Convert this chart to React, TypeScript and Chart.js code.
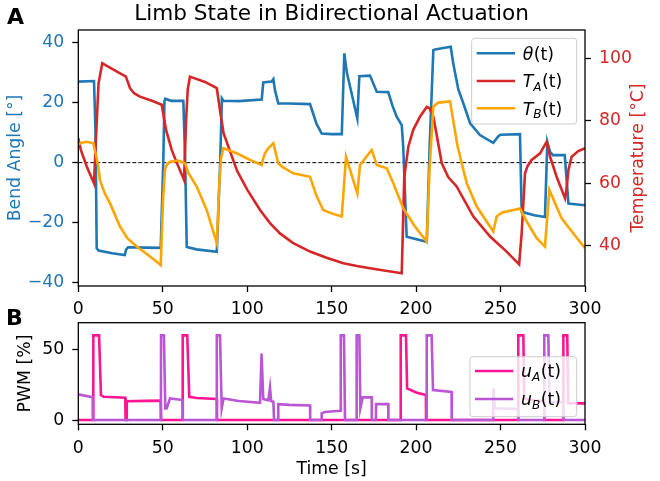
import React, { useEffect, useRef } from "react";
import { Chart, registerables } from "chart.js";
Chart.register(...registerables);

const FONT = "'DejaVu Sans', 'Liberation Sans', sans-serif";
const FS = 17.3;
const FS_TITLE = 21.6;
const C_THETA = "#1f77b4";
const C_TA = "#d62728";
const C_TB = "#ffa500";
const C_UA = "#ff1493";
const C_UB = "#ba55d3";

// ---- Data (time in s) ----
const thetaTime = [0, 9.3, 10.2, 10.9, 12, 20, 27.5, 28.3, 29.5, 40, 48.8, 50.3, 51, 51.5, 55, 62.2, 63.3, 64.2, 70, 82, 84, 85, 86, 95, 108.6, 109.5, 114.5, 115.5, 116.5, 118.4, 125, 137.2, 141, 144.1, 150, 156, 157.5, 159, 165.2, 166.4, 172.7, 176.7, 183.5, 186, 188.5, 191.5, 192.4, 194.4, 206.3, 208, 210.2, 211.2, 220.5, 222, 225, 228, 232, 237.8, 245.7, 248.7, 250, 261.5, 262.5, 270, 276.3, 277.7, 279.3, 281, 288, 290.2, 300];
const thetaDeg = [27, 27.2, 10, -28.5, -29.3, -30.2, -30.8, -29, -28.2, -28.3, -28.4, 0, 20.5, 21.3, 20.6, 20.6, 0, -28.1, -28.9, -29.7, 0, 21.4, 20.6, 20.5, 21, 26.7, 27, 27.8, 24, 19.7, 19.7, 19.5, 13, 9.7, 9.5, 9.5, 36.4, 30, 14.7, 28.8, 29, 23.6, 23.5, 19, 15.3, 12.5, 5, -24.7, -26.4, 5, 37.5, 37.7, 38.6, 33, 24.4, 19.7, 13.1, 9.2, 6.6, 8.8, 9.3, 9.5, -16.4, -17.5, -18.1, 6.9, 3.6, 2.5, 2.5, -13.6, -14.2];

const taTime = [0, 1.5, 5, 9.3, 10.5, 12, 14.2, 20, 28.2, 30.6, 33, 36.5, 44, 49.4, 52, 55.3, 58.2, 62.6, 63.8, 64.8, 66.1, 75, 82, 84, 86, 90, 94, 100, 107.6, 113.5, 119.4, 127, 137.2, 147, 156.9, 165, 172.7, 182, 191.5, 192.4, 193, 195.4, 198.3, 202.3, 206.3, 208, 210.2, 212, 215.2, 219, 224, 233.9, 243.8, 253.6, 261, 262.5, 264.5, 266, 268.4, 273.4, 277.3, 279.3, 283.2, 288.2, 289, 290.2, 292.1, 296, 300];
const taTemp = [74.4, 70.7, 65.4, 60, 75, 92, 98.4, 96.6, 94.1, 90.4, 88.8, 87.7, 86.3, 85.1, 77, 70.7, 66.7, 61.1, 80, 90, 94.1, 92.4, 90.4, 83, 76, 70, 64, 58, 51.5, 47.3, 44, 41, 38.2, 36.2, 34.5, 33.6, 32.9, 32.1, 31.3, 50, 62, 71.7, 77.1, 81.3, 84.4, 84, 81.3, 76, 66.4, 62, 59, 49.4, 43, 38.2, 34.1, 44, 63.2, 65.5, 67.5, 69.6, 73.3, 68.5, 62.1, 55.2, 58, 64.3, 68.5, 70.3, 71.2];

const tbTime = [0, 2, 5, 8.9, 10.5, 11.8, 12.8, 15.5, 18.8, 24.7, 29, 34.6, 42.5, 48.8, 50.2, 51.3, 52.5, 54.3, 59.2, 63.2, 65, 70.1, 76, 82, 83.5, 84.5, 85.9, 93.8, 101.7, 108.6, 109.5, 110.5, 112.5, 115.5, 118.4, 121, 127.3, 137.2, 141, 145, 150, 156, 158.5, 165.2, 166.8, 173.7, 176.7, 182.6, 186.5, 192.4, 199.3, 206.3, 208, 210.2, 213.1, 220.1, 222, 224.5, 227, 230, 235.9, 245.7, 247.7, 250.7, 261.5, 265.5, 271.4, 276.3, 278.9, 282.3, 286.2, 293.1, 300];
const tbTemp = [72.5, 73, 73.3, 72.8, 69, 65.4, 61.1, 57, 53.6, 46.2, 42.5, 39.8, 36.6, 33.9, 55, 64.3, 66, 66.9, 67.3, 66.4, 63.5, 59, 51.5, 40.9, 60, 68, 71.2, 69.6, 67.5, 65.9, 68, 69.6, 71.2, 72.8, 66.4, 65.2, 63.2, 62.1, 56, 51.5, 50.4, 49.4, 68.5, 56.8, 65.9, 70.7, 65.9, 64.8, 60, 52, 46.2, 41.4, 65, 84.5, 85.8, 86.2, 80, 72, 66.4, 60, 52.6, 44.6, 49.4, 50.6, 52, 47.8, 42.5, 39.8, 57.9, 53.6, 48.8, 44, 39.3];

const uaTime = [0, 8.8, 8.9, 12.3, 13.4, 15, 27.8, 28, 28.5, 28.7, 40, 48.8, 49, 61.7, 61.8, 64.5, 65.7, 70, 82, 82.1, 190.8, 190.9, 194, 194.7, 200, 205.8, 205.9, 260.4, 260.5, 263.5, 264, 270, 275.8, 275.9, 287.1, 287.2, 289.5, 290, 300];
const uaPct = [0, 0, 60, 60, 17.7, 16.5, 15.9, 0, 0, 13.4, 13.6, 13.8, 0, 0, 60, 60, 16.5, 15.6, 14.9, 0, 0, 60, 60, 22.4, 19.5, 17.7, 0, 0, 60, 60, 15, 14, 13.5, 0, 0, 60, 60, 12, 11.8];

const ubTime = [0, 8.5, 8.6, 48.9, 49, 50.7, 51.5, 52.3, 54.3, 61.8, 61.9, 81.9, 82, 83.9, 84.9, 86, 95, 107.6, 108.5, 109.5, 112.5, 113.5, 114.2, 115.5, 115.9, 118.3, 118.4, 125, 137.2, 137.3, 144, 144.1, 146, 155, 155.4, 157.3, 157.9, 164.7, 164.8, 166.4, 167, 168.4, 173.7, 173.8, 176.2, 176.3, 183.5, 183.6, 206.2, 206.3, 209.2, 210, 221, 221.1, 245.6, 245.7, 246.7, 260.4, 260.5, 275.8, 275.9, 278.3, 279, 287, 287.1, 300];
const ubPct = [18.2, 16.1, 0, 0, 60, 60, 8.3, 8.3, 15.3, 14.2, 0, 0, 60, 60, 8.3, 15.3, 13.5, 12.2, 47.2, 15, 14, 23.1, 13.5, 13, 0, 0, 11.3, 10.8, 10.3, 0, 0, 4.7, 5.7, 6.6, 60, 60, 0, 0, 60, 60, 8.3, 16.1, 16.1, 0, 0, 11.3, 11.3, 0, 0, 60, 60, 21.2, 20, 0, 0, 22.4, 8.3, 7.8, 0, 0, 60, 60, 13, 12.5, 0, 0];

// ---- Ticks / labels ----
const timeTicks = [0, 50, 100, 150, 200, 250, 300];
const angleTicks = [-40, -20, 0, 20, 40];
const tempTicks = [40, 60, 80, 100];
const pwmTicks = [0, 50];

const pts = (ts: number[], vs: number[]) => ts.map((t, i) => ({ x: t, y: vs[i] }));
const fmt = (v: number) => (v < 0 ? "\u2212" + Math.abs(v) : String(v));

function mkScale(position: string, min: number, max: number, ticks: number[], color: string, fit: (s: any) => void, padding: number) {
  return {
    type: "linear",
    position,
    min,
    max,
    afterBuildTicks: (s: any) => {
      s.ticks = ticks.map((v) => ({ value: v }));
    },
    afterFit: fit,
    grid: { display: true, drawOnChartArea: false, drawTicks: true, tickLength: 6, tickWidth: 1.3, tickColor: "#000" },
    border: { display: false },
    ticks: {
      font: { family: FONT, size: FS },
      color,
      padding,
      autoSkip: false,
      maxRotation: 0,
      callback: (v: any) => fmt(Number(v)),
    },
  };
}

function line(label: string, data: any[], color: string, order: number, yAxisID: string) {
  return {
    label,
    data,
    borderColor: color,
    backgroundColor: color,
    borderWidth: 2.6,
    pointRadius: 0,
    tension: 0,
    fill: false,
    order,
    yAxisID,
  };
}

function mathLabel(ctx: CanvasRenderingContext2D, x: number, y: number, main: string, sub?: string) {
  ctx.textAlign = "left";
  ctx.textBaseline = "alphabetic";
  ctx.fillStyle = "#000";
  ctx.font = `italic ${FS}px ${FONT}`;
  ctx.fillText(main, x, y);
  let w = ctx.measureText(main).width;
  if (sub) {
    ctx.font = `italic ${FS * 0.7}px ${FONT}`;
    ctx.fillText(sub, x + w, y + FS * 0.22);
    w += ctx.measureText(sub).width;
  }
  ctx.font = `${FS}px ${FONT}`;
  ctx.fillText("(t)", x + w + 0.5, y);
}

function drawLegend(ctx: CanvasRenderingContext2D, bx: number, by: number, bw: number, bh: number, rows: { y: number; color: string; main: string; sub?: string }[]) {
  ctx.save();
  ctx.beginPath();
  (ctx as any).roundRect(bx, by, bw, bh, 3);
  ctx.fillStyle = "rgba(255,255,255,0.8)";
  ctx.fill();
  ctx.strokeStyle = "#cccccc";
  ctx.lineWidth = 1;
  ctx.stroke();
  for (const r of rows) {
    ctx.beginPath();
    ctx.moveTo(bx + 5, r.y);
    ctx.lineTo(bx + 43.3, r.y);
    ctx.strokeStyle = r.color;
    ctx.lineWidth = 2.6;
    ctx.stroke();
    mathLabel(ctx, bx + 51, r.y + 6.3, r.main, r.sub);
  }
  ctx.restore();
}

function frame(ctx: CanvasRenderingContext2D, a: any) {
  ctx.save();
  ctx.strokeStyle = "#000";
  ctx.lineWidth = 1.3;
  ctx.strokeRect(a.left, a.top, a.right - a.left, a.bottom - a.top);
  ctx.restore();
}

function rotText(ctx: CanvasRenderingContext2D, text: string, x: number, y: number, color: string) {
  ctx.save();
  ctx.translate(x, y);
  ctx.rotate(-Math.PI / 2);
  ctx.textAlign = "center";
  ctx.textBaseline = "alphabetic";
  ctx.fillStyle = color;
  ctx.font = `${FS}px ${FONT}`;
  ctx.fillText(text, 0, 0);
  ctx.restore();
}

const deco1 = {
  id: "deco1",
  afterDatasetsDraw(chart: any) {
    const ctx = chart.ctx;
    frame(ctx, chart.chartArea);
    drawLegend(ctx, 471.7, 38.3, 105, 85.7, [
      { y: 53.3, color: C_THETA, main: "\u03b8" },
      { y: 81, color: C_TA, main: "T", sub: "A" },
      { y: 108.3, color: C_TB, main: "T", sub: "B" },
    ]);
  },
  afterDraw(chart: any) {
    const ctx = chart.ctx as CanvasRenderingContext2D;
    ctx.save();
    ctx.fillStyle = "#000";
    ctx.textAlign = "left";
    ctx.textBaseline = "alphabetic";
    ctx.font = `bold 22px ${FONT}`;
    ctx.fillText("A", 7, 24);
    ctx.font = `${FS_TITLE}px ${FONT}`;
    ctx.textAlign = "center";
    ctx.fillText("Limb State in Bidirectional Actuation", 331.6, 19.5);
    ctx.restore();
    rotText(ctx, "Bend Angle [\u00b0]", 19.5, 158, C_THETA);
    rotText(ctx, "Temperature [\u00b0C]", 643, 158, C_TA);
  },
};

const deco2 = {
  id: "deco2",
  afterDatasetsDraw(chart: any) {
    const ctx = chart.ctx;
    frame(ctx, chart.chartArea);
    drawLegend(ctx, 470, 56.7, 106.7, 60, [
      { y: 71, color: C_UA, main: "u", sub: "A" },
      { y: 99, color: C_UB, main: "u", sub: "B" },
    ]);
  },
  afterDraw(chart: any) {
    const ctx = chart.ctx as CanvasRenderingContext2D;
    ctx.save();
    ctx.fillStyle = "#000";
    ctx.textAlign = "left";
    ctx.textBaseline = "alphabetic";
    ctx.font = `bold 22px ${FONT}`;
    ctx.fillText("B", 6, 25);
    ctx.font = `${FS}px ${FONT}`;
    ctx.textAlign = "center";
    ctx.fillText("Time [s]", 331.6, 173.5);
    ctx.restore();
    rotText(ctx, "PWM [%]", 30, 73.5, "#000");
  },
};

const baseOpts = {
  animation: false,
  responsive: false,
  devicePixelRatio: 1,
  events: [],
  plugins: { legend: { display: false }, tooltip: { enabled: false }, title: { display: false } },
};

export default function App() {
  const c1 = useRef<HTMLCanvasElement>(null);
  const c2 = useRef<HTMLCanvasElement>(null);

  useEffect(() => {
    const ch1 = new Chart(c1.current as HTMLCanvasElement, {
      type: "line",
      data: {
        datasets: [
          {
            label: "zero",
            data: [{ x: 0, y: 0 }, { x: 300, y: 0 }],
            borderColor: "#000",
            borderWidth: 1,
            borderDash: [4, 2],
            pointRadius: 0,
            order: 4,
            yAxisID: "y",
          },
          line("\u03b8(t)", pts(thetaTime, thetaDeg), C_THETA, 3, "y"),
          line("T_A(t)", pts(taTime, taTemp), C_TA, 2, "y1"),
          line("T_B(t)", pts(tbTime, tbTemp), C_TB, 1, "y1"),
        ],
      } as any,
      options: {
        ...baseOpts,
        layout: { padding: { top: 30, left: 0, right: 0, bottom: 0 } },
        scales: {
          x: mkScale("bottom", 0, 300, timeTicks, "#000", (s: any) => { s.height = 34; }, 7),
          y: mkScale("left", -41.1, 44.2, angleTicks, C_THETA, (s: any) => { s.width = 78.3; }, 8),
          y1: mkScale("right", 27.2, 109, tempTicks, C_TA, (s: any) => { s.width = 75; }, 8),
        },
      } as any,
      plugins: [deco1],
    });

    const ch2 = new Chart(c2.current as HTMLCanvasElement, {
      type: "line",
      data: {
        datasets: [
          line("u_A(t)", pts(uaTime, uaPct), C_UA, 2, "y"),
          line("u_B(t)", pts(ubTime, ubPct), C_UB, 1, "y"),
        ],
      } as any,
      options: {
        ...baseOpts,
        layout: { padding: { top: 22.7, left: 0, right: 75, bottom: 0 } },
        scales: {
          x: mkScale("bottom", 0, 300, timeTicks, "#000", (s: any) => { s.height = 56.7; }, 8),
          y: mkScale("left", -3, 69, pwmTicks, "#000", (s: any) => { s.width = 78.3; }, 8),
        },
      } as any,
      plugins: [deco2],
    });

    return () => {
      ch1.destroy();
      ch2.destroy();
    };
  }, []);

  return (
    <div style={{ position: "absolute", left: 0, top: 0, width: 660, height: 481, background: "#fff", overflow: "hidden" }}>
      <canvas ref={c1} width={660} height={320} style={{ position: "absolute", left: 0, top: 0 }} />
      <canvas ref={c2} width={660} height={181} style={{ position: "absolute", left: 0, top: 300 }} />
    </div>
  );
}
